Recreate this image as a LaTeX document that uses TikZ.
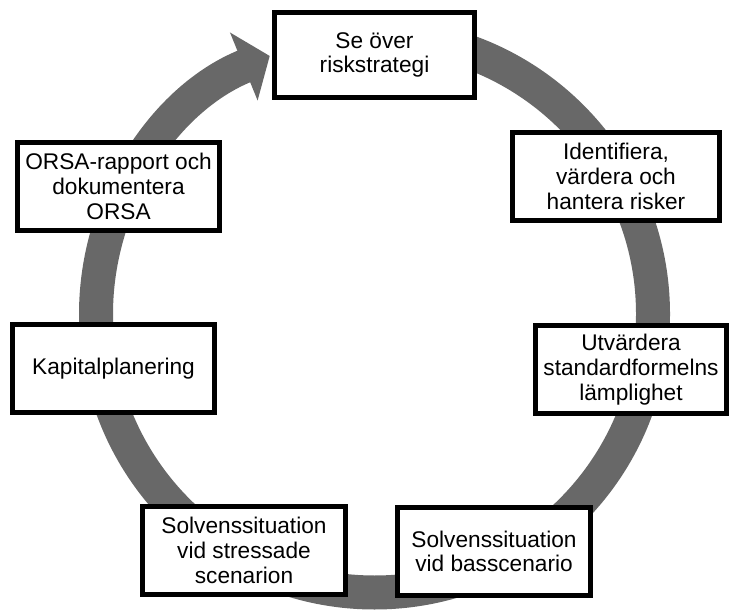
\documentclass[tikz,border=0pt]{standalone}
\usepackage{fontspec}
\setmainfont{Liberation Sans}
\usetikzlibrary{arrows.meta}
\definecolor{ringgray}{RGB}{104,104,104}
\tikzset{
  stagebox/.style={draw=black, line width=3.75pt, fill=white, align=center,
    minimum height=66pt, inner sep=2pt,
    font=\fontsize{17}{18.5}\selectfont},
  cycle ring/.style={draw=ringgray, line width=25.5pt,
    -{Triangle[width=54pt, length=21pt]}}
}
\begin{document}
\begin{tikzpicture}[x=0.75pt,y=0.75pt]
\useasboundingbox (0,0) rectangle (730,610);
\coordinate (ctr) at (374.5,296);
\draw[cycle ring] ([shift={(90:278.5)}]ctr) arc[start angle=90, end angle=-247.9, radius=278.5];
\node[stagebox, minimum width=150pt, minimum height=64pt] (strategi) at (374.5,555) {Se över\\riskstrategi};
\node[stagebox, minimum width=155pt] (risker) at (616,433.5) {Identifiera,\\värdera och\\hantera risker};
\node[stagebox, minimum width=143pt] (formel) at (631,240.5) {Utvärdera\\standardformelns\\lämplighet};
\node[stagebox, minimum width=145pt] (bas) at (494,58.5) {Solvenssituation\\vid basscenario};
\node[stagebox, minimum width=152pt] (stress) at (244,59.5) {Solvenssituation\\vid stressade\\scenarion};
\node[stagebox, minimum width=151.5pt] (kapital) at (113.5,241.5) {Kapitalplanering};
\node[stagebox, minimum width=151.5pt] (rapport) at (118.5,423.5) {ORSA-rapport och\\dokumentera\\ORSA};
\end{tikzpicture}
\end{document}
